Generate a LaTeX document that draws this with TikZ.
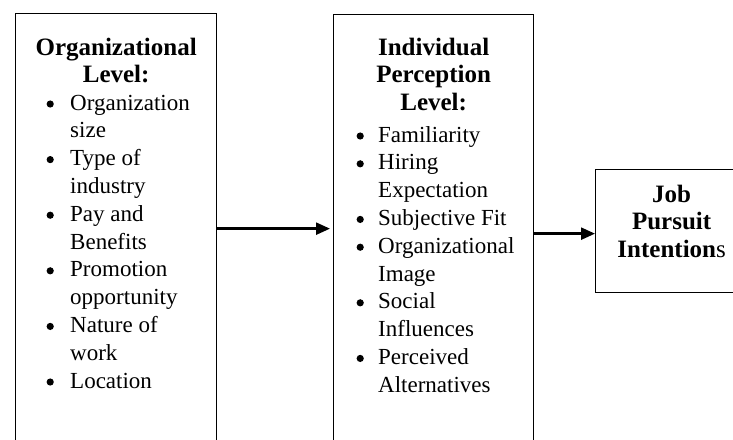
\documentclass[tikz,border=0pt]{standalone}
\usepackage{fontspec}
\setmainfont{Liberation Serif}
\usetikzlibrary{arrows.meta}
\newcommand{\itemdot}{\tikz[baseline=-0.26em]\fill (0,0) circle (3.6pt);}
\tikzset{
  frame/.style={draw, line width=1.3pt, anchor=north west, inner sep=0pt},
  head/.style={font=\fontsize{25}{27.8}\selectfont\bfseries, anchor=base, inner sep=0pt},
  items/.style={font=\fontsize{23}{27.8}\selectfont, anchor=base west, inner sep=0pt},
  flow/.style={line width=2.4pt, -{Triangle[length=14pt,width=12pt]}}
}
\begin{document}
\begin{tikzpicture}[x=1pt,y=-1pt]
            \useasboundingbox (0,0) rectangle (733,439);
            % the three boxes, open past the page edge
            \node[frame, minimum width=201pt, minimum height=430pt] (orgbox) at (15,13) {};
            \node[frame, minimum width=200pt, minimum height=438pt] (percbox) at (333,14) {};
            \node[frame, minimum width=152pt, minimum height=123pt] (jobbox) at (595,169) {};

            \node[head] (orghead) at ([yshift=-42pt]orgbox.north)
                {\begin{tabular}[t]{@{}c@{}}Organizational\\Level:\end{tabular}};
            \node[items] (orglist) at ([xshift=31.4pt,yshift=-97pt]orgbox.north west)
                {\begin{tabular}[t]{@{}c@{\hspace{16.4pt}}l@{}}
                 \itemdot & Organization\\ & size\\
                 \itemdot & Type of\\ & industry\\
                 \itemdot & Pay and\\ & Benefits\\
                 \itemdot & Promotion\\ & opportunity\\
                 \itemdot & Nature of\\ & work\\
                 \itemdot & Location
                 \end{tabular}};

            \node[head] (perchead) at ([yshift=-41pt]percbox.north)
                {\begin{tabular}[t]{@{}c@{}}Individual\\Perception\\Level:\end{tabular}};
            \node[items] (perclist) at ([xshift=23.4pt,yshift=-128pt]percbox.north west)
                {\begin{tabular}[t]{@{}c@{\hspace{14.4pt}}l@{}}
                 \itemdot & Familiarity\\
                 \itemdot & Hiring\\ & Expectation\\
                 \itemdot & Subjective Fit\\
                 \itemdot & Organizational\\ & Image\\
                 \itemdot & Social\\ & Influences\\
                 \itemdot & Perceived\\ & Alternatives
                 \end{tabular}};

            \node[head] (jobhead) at ([yshift=-33pt]jobbox.north)
                {\begin{tabular}[t]{@{}c@{}}Job\\Pursuit\\Intention{\mdseries s}\end{tabular}};

            \draw[flow, shorten >=3pt] (orgbox.east) -- (orgbox.east -| percbox.west);
            \draw[flow] (percbox.east) -- (percbox.east -| jobbox.west);
        \end{tikzpicture}
\end{document}
